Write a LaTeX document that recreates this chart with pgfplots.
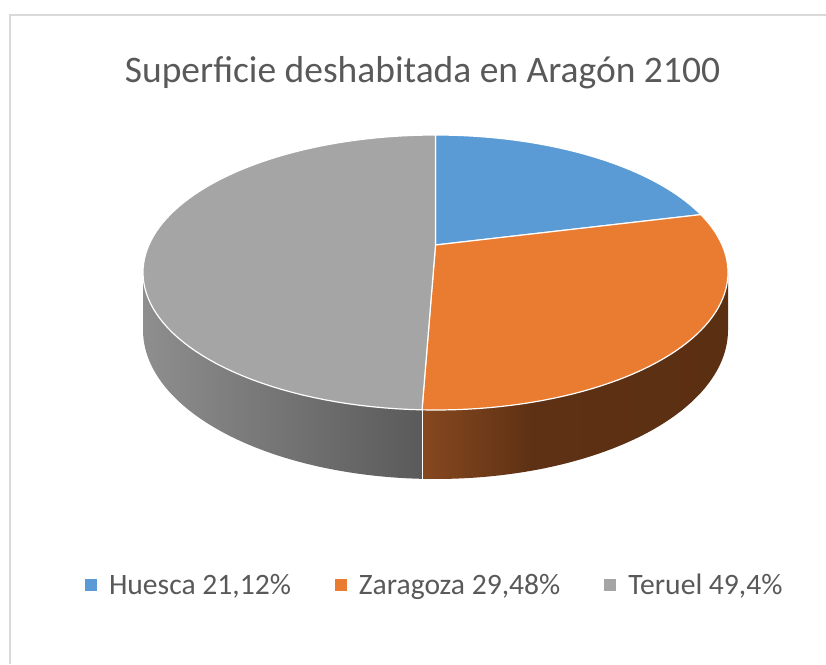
\documentclass[border=0pt]{standalone}
\usepackage{pgfplots}
\pgfplotsset{compat=1.18}
\usepackage{pgfplotstable}
\usepackage{fontspec}
\setmainfont{Carlito}
\definecolor{cH}{HTML}{5B9BD5}
\definecolor{cZ}{HTML}{EA7C32}
\definecolor{cT}{HTML}{A5A5A5}
\definecolor{txt}{HTML}{595959}
\definecolor{framec}{HTML}{D9D9D9}
\definecolor{zA}{HTML}{86481F}
\definecolor{zB}{HTML}{5E3114}
\definecolor{zC}{HTML}{5B2F12}
\definecolor{tA}{HTML}{8E8E8E}
\definecolor{tB}{HTML}{5A5A5A}
\pgfdeclarehorizontalshading{zshade}{100bp}{color(0bp)=(zA); color(25bp)=(zA); color(43bp)=(zB); color(75bp)=(zC); color(100bp)=(zC)}

\pgfplotstableread{
name value
Huesca 21.12
Zaragoza 29.48
Teruel 49.4
}\piedata

\begin{document}
\begin{tikzpicture}[declare function={
 PX(\t)=435.5+286.6*sin(\t)/(1+0.2*cos(\t));
 PT(\t)=664-(245-83*cos(\t))/(1+0.2*cos(\t));
 PB(\t)=664-(300.2-83*cos(\t))/(1+0.2*cos(\t));
}]
\pgfplotstablegetelem{0}{value}\of\piedata \let\vH\pgfplotsretval
\pgfplotstablegetelem{1}{value}\of\piedata \let\vZ\pgfplotsretval
\pgfmathsetmacro\aA{3.6*\vH}
\pgfmathsetmacro\aB{3.6*(\vH+\vZ)}
\pgfmathsetmacro\sL{180+acos(0.2)}
\pgfmathsetmacro\sR{180-acos(0.2)}
\begin{axis}[width=826pt,height=664pt,scale only axis,
  xmin=0,xmax=826,ymin=0,ymax=664,hide axis,clip=false,
  legend image code/.code={\fill[#1] (0pt,-6pt) rectangle (12pt,6pt);},
  legend style={at={(0.1029,0.119)},anchor=west,draw=none,fill=none,
    inner sep=0pt,outer sep=0pt,font=\fontsize{29.6}{32}\selectfont,text=txt,
    nodes={inner sep=0pt},
    /tikz/every odd column/.style={column sep=12pt},
    /tikz/every even column/.style={column sep=44pt}},
  legend columns=-1]
% frame
\draw[framec,line width=1.5pt] (10,0) -- (10,649) -- (826,649);
% title
\node[anchor=base,font=\fontsize{37.5}{40}\selectfont,text=txt] at (422.5,581) {Superficie deshabitada en Aragón 2100};
% sides
\path[left color=tA,right color=tB] plot[domain=\aB:\sL,samples=60,variable=\t] ({PX(\t)},{PT(\t)})
  -- plot[domain=\sL:\aB,samples=60,variable=\t] ({PX(\t)},{PB(\t)}) -- cycle;
\path[shading=zshade] plot[domain=\sR:\aB,samples=60,variable=\t] ({PX(\t)},{PT(\t)})
  -- plot[domain=\aB:\sR,samples=60,variable=\t] ({PX(\t)},{PB(\t)}) -- cycle;
\draw[white,line width=1pt] ({PX(\aB)},{PT(\aB)}) -- ({PX(\aB)},{PB(\aB)});
% top
\filldraw[fill=cH,draw=white,line width=1.2pt,line join=round] (435.5,419) -- plot[domain=0:\aA,samples=60,variable=\t] ({PX(\t)},{PT(\t)}) -- cycle;
\filldraw[fill=cZ,draw=white,line width=1.2pt,line join=round] (435.5,419) -- plot[domain=\aA:\aB,samples=60,variable=\t] ({PX(\t)},{PT(\t)}) -- cycle;
\filldraw[fill=cT,draw=white,line width=1.2pt,line join=round] (435.5,419) -- plot[domain=\aB:360,samples=90,variable=\t] ({PX(\t)},{PT(\t)}) -- cycle;
\addlegendimage{fill=cH,draw=none}\addlegendentry{Huesca 21,12\%}
\addlegendimage{fill=cZ,draw=none}\addlegendentry{Zaragoza 29,48\%}
\addlegendimage{fill=cT,draw=none}\addlegendentry{Teruel 49,4\%}
\end{axis}
\pgfresetboundingbox
\useasboundingbox (current axis.south west) rectangle (current axis.north east);
\end{tikzpicture}
\end{document}
